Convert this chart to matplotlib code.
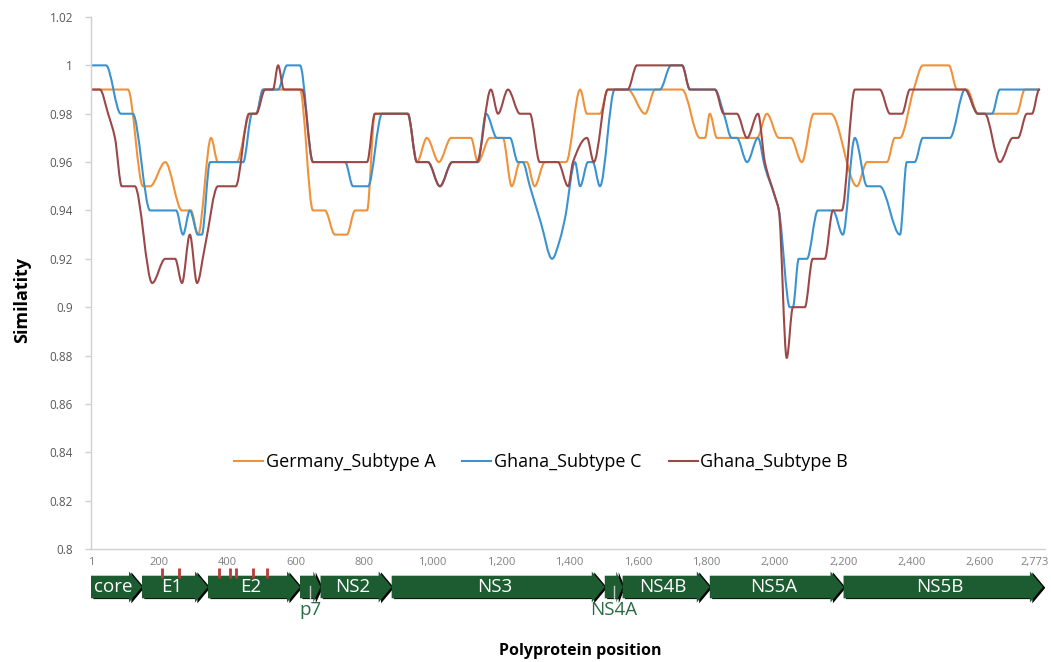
import numpy as np
import matplotlib
matplotlib.use("Agg")
import matplotlib.pyplot as plt
import matplotlib.transforms as mtransforms
from matplotlib.path import Path
from matplotlib.patches import PathPatch, Polygon
from matplotlib.lines import Line2D
from matplotlib.ticker import FuncFormatter

plt.rcParams["font.family"] = ["Open Sans", "DejaVu Sans"]

# ---------------------------------------------------------------- data
germany_a_pos = [1, 109, 153, 174, 218, 267, 293, 314, 352, 372, 427, 466, 484, 504,
                 612, 650, 685, 714, 749, 773, 808, 831, 927, 954, 983, 1018, 1054,
                 1112, 1132, 1167, 1205, 1231, 1255, 1275, 1298, 1328, 1390, 1431,
                 1451, 1489, 1512, 1570, 1621, 1650, 1729, 1781, 1796, 1810, 1831,
                 1948, 1977, 2012, 2047, 2079, 2114, 2164, 2240, 2270, 2328, 2351,
                 2366, 2406, 2433, 2509, 2533, 2562, 2594, 2707, 2731, 2773]
germany_a_sim = [0.99, 0.99, 0.95, 0.95, 0.96, 0.94, 0.94, 0.93, 0.97, 0.96, 0.96, 0.98,
                 0.98, 0.99, 0.99, 0.94, 0.94, 0.93, 0.93, 0.94, 0.94, 0.98, 0.98, 0.96,
                 0.97, 0.96, 0.97, 0.97, 0.96, 0.97, 0.97, 0.95, 0.96, 0.96, 0.95, 0.96,
                 0.96, 0.99, 0.98, 0.98, 0.99, 0.99, 0.98, 0.99, 0.99, 0.97, 0.97, 0.98,
                 0.97, 0.97, 0.98, 0.97, 0.97, 0.96, 0.98, 0.98, 0.95, 0.96, 0.96, 0.97,
                 0.97, 0.99, 1.00, 1.00, 0.99, 0.99, 0.98, 0.98, 0.99, 0.99]

ghana_c_pos = [1, 27, 45, 88, 123, 174, 250, 270, 290, 314, 325, 349, 446, 472, 484,
               504, 548, 574, 612, 650, 744, 767, 811, 852, 927, 954, 986, 1021, 1057,
               1132, 1156, 1188, 1226, 1249, 1263, 1284, 1316, 1349, 1372, 1387, 1416,
               1431, 1454, 1468, 1489, 1532, 1664, 1697, 1729, 1752, 1825, 1851, 1874,
               1889, 1919, 1951, 1971, 2000, 2012, 2044, 2053, 2070, 2094, 2126, 2170,
               2199, 2234, 2270, 2307, 2366, 2386, 2409, 2433, 2512, 2556, 2594, 2635,
               2658, 2773]
ghana_c_sim = [1.00, 1.00, 1.00, 0.98, 0.98, 0.94, 0.94, 0.93, 0.94, 0.93, 0.93, 0.96,
               0.96, 0.98, 0.98, 0.99, 0.99, 1.00, 1.00, 0.96, 0.96, 0.95, 0.95, 0.98,
               0.98, 0.96, 0.96, 0.95, 0.96, 0.96, 0.98, 0.97, 0.97, 0.96, 0.96, 0.95,
               0.935, 0.92, 0.928, 0.937, 0.96, 0.95, 0.96, 0.96, 0.95, 0.99, 0.99, 1.00,
               1.00, 0.99, 0.99, 0.98, 0.97, 0.97, 0.96, 0.97, 0.958, 0.946, 0.94, 0.90,
               0.90, 0.92, 0.92, 0.94, 0.94, 0.93, 0.97, 0.95, 0.95, 0.93, 0.96, 0.96,
               0.97, 0.97, 0.99, 0.98, 0.98, 0.99, 0.99]

ghana_b_pos = [1, 27, 51, 71, 91, 129, 180, 218, 247, 267, 290, 311, 334, 372, 424,
               463, 484, 510, 533, 548, 565, 618, 650, 808, 831, 927, 954, 986, 1021,
               1057, 1129, 1170, 1191, 1220, 1255, 1284, 1313, 1366, 1396, 1410, 1451,
               1471, 1512, 1570, 1597, 1729, 1752, 1825, 1851, 1889, 1919, 1951, 1971,
               2000, 2012, 2035, 2053, 2088, 2111, 2146, 2170, 2196, 2234, 2307, 2337,
               2372, 2395, 2556, 2594, 2614, 2658, 2696, 2711, 2737, 2752, 2773]
ghana_b_sim = [0.99, 0.99, 0.98, 0.97, 0.95, 0.95, 0.91, 0.92, 0.92, 0.91, 0.93, 0.91,
               0.925, 0.95, 0.95, 0.98, 0.98, 0.99, 0.99, 1.00, 0.99, 0.99, 0.96, 0.96,
               0.98, 0.98, 0.96, 0.96, 0.95, 0.96, 0.96, 0.99, 0.98, 0.99, 0.98, 0.98,
               0.96, 0.96, 0.95, 0.96, 0.97, 0.96, 0.99, 0.99, 1.00, 1.00, 0.99, 0.99,
               0.98, 0.98, 0.97, 0.98, 0.96, 0.946, 0.94, 0.879, 0.90, 0.90, 0.92, 0.92,
               0.94, 0.94, 0.99, 0.99, 0.98, 0.98, 0.99, 0.99, 0.98, 0.98, 0.96, 0.97,
               0.97, 0.98, 0.98, 0.99]

series_names = ["Germany_Subtype A", "Ghana_Subtype C", "Ghana_Subtype B"]
series_colors = ["#F0923B", "#3A93D0", "#9C4848"]

# genome map of the polyprotein
gene_names = ["core", "E1", "E2", "p7", "NS2", "NS3", "NS4A", "NS4B", "NS5A", "NS5B"]
gene_starts = [1, 150, 343, 612, 672, 880, 1503, 1555, 1810, 2201]
gene_ends = [150, 343, 612, 672, 880, 1503, 1555, 1810, 2201, 2784]
outside_labels = ["p7", "NS4A"]
site_marks = [208, 258, 376, 406, 424, 475, 516]

ruler_ticks = [1, 200, 400, 600, 800, 1000, 1200, 1400, 1600, 1800, 2000, 2200,
               2400, 2600, 2773]
y_ticks = [0.80, 0.82, 0.84, 0.86, 0.88, 0.90, 0.92, 0.94, 0.96, 0.98, 1.00, 1.02]


def smooth_path(x, y):
    """Monotone cubic Bezier path through the points (smoothed line)."""
    x = np.asarray(x, float)
    y = np.asarray(y, float)
    h = np.diff(x)
    d = np.diff(y) / h
    m = np.zeros_like(x)
    for k in range(1, len(x) - 1):
        if d[k - 1] * d[k] > 0:
            w1 = 2 * h[k] + h[k - 1]
            w2 = h[k] + 2 * h[k - 1]
            m[k] = (w1 + w2) / (w1 / d[k - 1] + w2 / d[k])
    verts = [(x[0], y[0])]
    codes = [Path.MOVETO]
    for k in range(len(x) - 1):
        verts += [(x[k] + h[k] / 3, y[k] + m[k] * h[k] / 3),
                  (x[k + 1] - h[k] / 3, y[k + 1] - m[k + 1] * h[k] / 3),
                  (x[k + 1], y[k + 1])]
        codes += [Path.CURVE4] * 3
    return Path(verts, codes)


W, H = 1051, 662
fig = plt.figure(figsize=(W / 100, H / 100), dpi=100)
ax = fig.add_axes([91 / W, 1 - 549 / H, 954 / W, 532 / H])

xmin, xmax = 1, 2790
ax.set_xlim(xmin, xmax)
ax.set_ylim(0.8, 1.02)

for (xs, ys), col in zip([(germany_a_pos, germany_a_sim),
                          (ghana_c_pos, ghana_c_sim),
                          (ghana_b_pos, ghana_b_sim)], series_colors):
    ax.add_patch(PathPatch(smooth_path(xs, ys), fill=False, edgecolor=col,
                           lw=1.5, joinstyle="round", capstyle="round"))

axis_grey = "#d0d0d0"
for side in ("top", "right"):
    ax.spines[side].set_visible(False)
for side in ("left", "bottom"):
    ax.spines[side].set_color(axis_grey)
    ax.spines[side].set_linewidth(1.0)

ax.set_yticks(y_ticks)
ax.yaxis.set_major_formatter(FuncFormatter(lambda v, p: f"{round(v, 2):g}"))
ax.tick_params(axis="y", direction="out", length=4, width=1, color=axis_grey,
               labelsize=8.5, labelcolor="#595959", pad=9)

ax.set_xticks(ruler_ticks)
ax.set_xticklabels([f"{t:,}" for t in ruler_ticks])
ax.tick_params(axis="x", length=0, labelsize=8, labelcolor="#808080", pad=6)
last = ax.get_xticklabels()[-1]
last.set_horizontalalignment("right")
last.set_transform(last.get_transform() +
                   mtransforms.ScaledTranslation(10 / 100, 0, fig.dpi_scale_trans))

fig.text(22 / W, 1 - 300 / H, "Similatity", rotation=90, ha="center",
         va="center", fontsize=13, fontweight="bold")
fig.text(580 / W, 1 - 651 / H, "Polyprotein position", ha="center",
         va="center", fontsize=11.5, fontweight="bold")

handles = [Line2D([], [], color=c, lw=1.5) for c in series_colors]
ax.legend(handles, series_names, ncol=3, loc="center",
          bbox_to_anchor=(541 / W, 1 - 462 / H), bbox_transform=fig.transFigure,
          frameon=False, fontsize=13, handlelength=1.6, handletextpad=0.15,
          columnspacing=1.5)

# ---------------------------------------------------------------- genome map
gx = fig.add_axes([91 / W, 1 - 625 / H, 954 / W, 70 / H])
gx.set_xlim(xmin, xmax)
gx.set_ylim(625, 555)
gx.set_axis_off()

green = "#1d5c30"
y_mid, body_half, head_half = 587.0, 11.3, 15.5
shadow_dx = 7.0
shapes = []
for name, s, e in zip(gene_names, gene_starts, gene_ends):
    head = min(38.0, 0.35 * (e - s))
    pts = [(s, y_mid - body_half), (e - head, y_mid - body_half),
           (e - head, y_mid - head_half), (e, y_mid),
           (e - head, y_mid + head_half), (e - head, y_mid + body_half),
           (s, y_mid + body_half)]
    shapes.append(pts)
    gx.add_patch(Polygon([(px + shadow_dx, py + 0.8) for px, py in pts],
                         closed=True, facecolor="black", edgecolor="none",
                         zorder=1))
for pts in shapes:
    gx.add_patch(Polygon(pts, closed=True, facecolor=green, edgecolor="none",
                         zorder=2))

for name, s, e in zip(gene_names, gene_starts, gene_ends):
    if name in outside_labels:
        c = (s + e) / 2
        gx.plot([c, c], [586, 598], color="#c8c8c8", lw=1, zorder=3)
        gx.text(c, 610, name, ha="center", va="center", fontsize=13.5,
                color="#2c6a45", zorder=3)
    else:
        gx.text((s + e) / 2 - 10, y_mid + 0.5, name, ha="center", va="center",
                fontsize=13.5, color="white", zorder=3)

gx.vlines(site_marks, 568, 578, colors="#b83a3a", lw=2, zorder=4)

fig.savefig("out.png", dpi=100)
